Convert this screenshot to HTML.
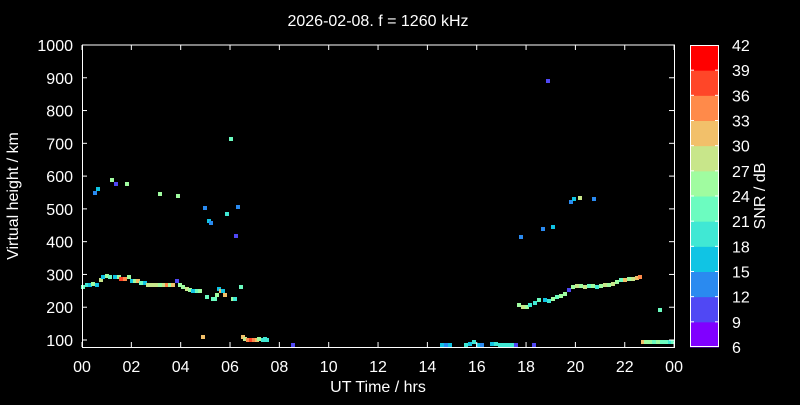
<!DOCTYPE html>
<html><head><meta charset="utf-8"><style>
body{margin:0;background:#000;width:800px;height:400px;overflow:hidden}
text{font-family:"Liberation Sans",sans-serif;fill:#fff}
</style></head><body>
<svg width="800" height="400" xmlns="http://www.w3.org/2000/svg">
<rect width="800" height="400" fill="#000"/>
<text x="378" y="26" font-size="16" text-anchor="middle">2026-02-08. f = 1260 kHz</text>
<g id="pts"></g>
<g stroke="#fff" stroke-width="1" fill="none">
<path d="M82.5 45V347.5H674.5V45H82.5"/>
</g>
<g id="ticks" stroke="#fff"></g>
<g id="lab" font-size="16"></g>
<text x="378" y="392" font-size="16" text-anchor="middle">UT Time / hrs</text>
<text transform="translate(18,196) rotate(-90)" font-size="16" text-anchor="middle">Virtual height / km</text>
<g id="cb"></g>
<text transform="translate(765,196) rotate(-90)" font-size="16" text-anchor="middle">SNR / dB</text>
</svg>
<script>
const ns="http://www.w3.org/2000/svg";
function el(p,t,a,txt){const e=document.createElementNS(ns,t);for(const k in a)e.setAttribute(k,a[k]);if(txt!==undefined)e.textContent=txt;document.getElementById(p).appendChild(e);}
const cols=["#8000ff","#5048f4","#2a8af0","#10c4e4","#40e8d4","#6cfcc0","#a0fca0","#c8e68a","#f2c06a","#ff8a4a","#ff4628","#ff0000"];
// y axis
for(let v=100;v<=1000;v+=100){const y=340-(v-100)*0.3278;
el("ticks","line",{x1:82,x2:87,y1:y,y2:y});el("ticks","line",{x1:669,x2:674,y1:y,y2:y});
el("lab","text",{x:73,y:y+6,"text-anchor":"end"},String(v));}
for(let h=0;h<=24;h+=2){const x=82+h*24.67;
el("ticks","line",{x1:x,x2:x,y1:347,y2:342});el("ticks","line",{x1:x,x2:x,y1:45,y2:50});
el("lab","text",{x:x,y:372,"text-anchor":"middle"},(h%24<10?"0":"")+(h%24));}
// colorbar
const segH=302/12;
for(let i=0;i<12;i++){el("cb","rect",{x:690,y:45+(11-i)*segH,width:29,height:segH+0.5,fill:cols[i]});}
el("cb","rect",{x:690.5,y:45.5,width:28,height:301,fill:"none",stroke:"#fff"});
for(let i=0;i<=12;i++){const y=347-i*segH;
if(i>0&&i<12){el("cb","line",{x1:690,x2:694,y1:y,y2:y,stroke:"#fff"});el("cb","line",{x1:715,x2:719,y1:y,y2:y,stroke:"#fff"});}
el("cb","text",{x:732,y:y+6,"font-size":16},String(6+3*i));}
// points [x,y,colorIndex]
const P=[[83,287,5],[87,285,4],[90,285,3],[93,284,6],[97,285,3],[101,280,7],[103,277,3],[107,276,6],[110,277,5],[115,277,3],[119,277,6],[121,279,10],[125,279,9],[129,277,6],[132,281,3],[135,281,6],[138,281,8],[141,283,5],[145,283,3],[148,285,7],[152,285,7],[156,285,7],[160,285,6],[164,285,7],[167,285,9],[170,285,6],[173,285,8],[177,281,1],[180,285,6],[183,287,6],[187,289,7],[190,290,6],[193,291,3],[197,291,5],[200,291,6],[203,337,8],[207,297,5],[213,299,5],[215,299,5],[217,295,6],[219,289,3],[221,291,8],[223,291,3],[225,295,8],[233,299,6],[235,299,4],[241,287,5],[243,337,8],[245,339,7],[248,340,9],[251,340,10],[254,340,9],[257,340,8],[259,339,6],[263,340,4],[265,339,4],[267,340,4],[293,345,1],
[95,193,2],[98,189,3],[112,180,6],[116,184,1],[127,184,6],[160,194,6],[178,196,6],[205,208,2],[209,221,3],[211,223,2],[227,214,4],[231,139,5],[236,236,1],[238,207,2],
[442,345,3],[446,345,2],[450,345,3],[466,345,4],[470,344,3],[474,342,4],[478,345,3],[482,345,2],[492,344,3],[496,344,4],[500,345,4],[504,345,4],[508,345,4],[512,345,4],[516,345,1],[534,345,1],
[548,81,1],[521,237,2],[543,229,2],[553,227,3],[571,202,2],[574,199,3],[580,198,7],[594,199,2],[660,310,5],
[519,305,6],[523,307,7],[527,307,6],[530,305,4],[535,303,4],[539,300,5],[545,300,3],[549,301,4],[553,299,6],[557,297,5],[561,296,6],[565,294,6],[569,290,1],[573,287,6],[577,286,7],[581,286,6],[585,287,7],[589,286,5],[593,286,6],[597,287,4],[601,286,6],[605,285,7],[609,285,6],[613,284,7],[617,282,6],[621,280,5],[625,280,8],[629,279,6],[633,279,7],[637,278,8],[640,277,9],
[643,342,8],[646,342,6],[650,342,6],[654,342,5],[658,342,6],[662,342,5],[666,342,5],[670,342,4],[673,342,5]];
for(const [x,y,c] of P)el("pts","rect",{x:x-2,y:y-2,width:4,height:4,fill:cols[c]});
</script>
</body></html>
